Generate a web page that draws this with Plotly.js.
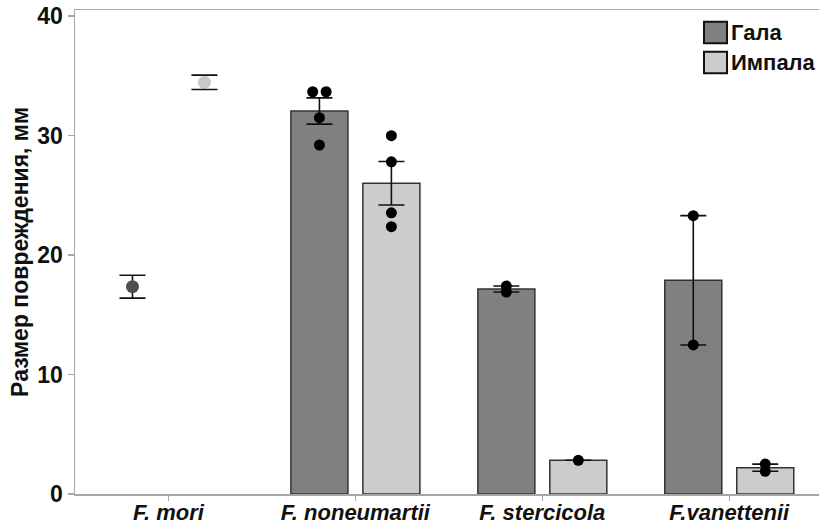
<!DOCTYPE html>
<html>
<head>
<meta charset="utf-8">
<script src="https://cdn.plot.ly/plotly-3.0.1.min.js"></script>
<style>html,body{margin:0;padding:0;background:#fff;}#chart{width:819px;height:527px;}</style>
</head>
<body>
<div id="chart"></div>
<script>
// ---- data ----
const categories = ['F. mori', 'F. noneumartii', 'F. stercicola', 'F.vanettenii'];
const seriesNames = ['Гала', 'Импала'];
const galaMean = [17.35, 32.05, 17.15, 17.88];
const galaSE = [0.96, 1.1, 0.25, 5.41];
const impalaMean = [34.45, 26.0, 2.82, 2.2];
const impalaSE = [0.6, 1.82, 0, 0.3];
const hasBar = [false, true, true, true];
const galaPoints = [[], [33.66, 33.66, 31.49, 29.2], [17.4, 16.9], [23.29, 12.47]];
const impalaPoints = [[], [29.98, 27.8, 23.53, 22.37], [2.82], [2.5, 1.9]];

// ---- styles ----
const FONT = 'Liberation Sans, Arial, sans-serif';
const barFill = ['#808080', '#cccccc'];
const meanMarkerColor = ['#505050', '#c8c8c8'];
const barWidth = 0.305;
const groupOffset = 0.1925;
const dodge = 0.036;

const means = [galaMean, impalaMean];
const ses = [galaSE, impalaSE];
const pts = [galaPoints, impalaPoints];

const traces = [];
// bars
[0, 1].forEach(s => {
  const xs = [], ys = [];
  categories.forEach((c, i) => { if (hasBar[i]) { xs.push(i); ys.push(means[s][i]); } });
  traces.push({
    type: 'bar', x: xs, y: ys, name: seriesNames[s], showlegend: false,
    width: barWidth, offset: s === 0 ? -groupOffset - barWidth / 2 : groupOffset - barWidth / 2,
    marker: { color: barFill[s], line: { color: '#333333', width: 1.5 } },
    hoverinfo: 'skip'
  });
});
// error bars at each group mean
[0, 1].forEach(s => {
  const sign = s === 0 ? -1 : 1;
  traces.push({
    type: 'scatter', mode: 'markers', showlegend: false,
    x: categories.map((c, i) => i + sign * groupOffset),
    y: means[s],
    error_y: { type: 'data', array: ses[s], visible: true, color: '#111111', thickness: 1.6, width: 13 },
    marker: { color: 'rgba(0,0,0,0)', size: 1 },
    hoverinfo: 'skip'
  });
});
// mean markers for groups drawn without bars
[0, 1].forEach(s => {
  const sign = s === 0 ? -1 : 1;
  const xs = [], ys = [];
  categories.forEach((c, i) => { if (!hasBar[i]) { xs.push(i + sign * groupOffset); ys.push(means[s][i]); } });
  traces.push({
    type: 'scatter', mode: 'markers', showlegend: false, x: xs, y: ys,
    marker: { color: meanMarkerColor[s], size: 13, line: { width: 0 } }, hoverinfo: 'skip'
  });
});
// individual points
[0, 1].forEach(s => {
  const sign = s === 0 ? -1 : 1;
  const xs = [], ys = [];
  pts[s].forEach((arr, i) => {
    arr.forEach((v, k) => {
      const same = arr.map((w, j) => j).filter(j => Math.abs(arr[j] - v) < 0.2);
      const rank = same.indexOf(k);
      const off = same.length > 1 ? (rank - (same.length - 1) / 2) * 2 * dodge : 0;
      xs.push(i + sign * groupOffset + off);
      ys.push(v);
    });
  });
  traces.push({
    type: 'scatter', mode: 'markers', showlegend: false, x: xs, y: ys,
    marker: { color: '#000000', size: 11 }, hoverinfo: 'skip'
  });
});

// manual legend (large swatches as in reference)
const shapes = [], annotations = [];
const legendTop = [21.7, 51.7];
seriesNames.forEach((n, s) => {
  shapes.push({
    type: 'rect', xref: 'paper', yref: 'paper',
    x0: (704 - 75) / 744, x1: (727 - 75) / 744,
    y0: (494 - legendTop[s]) / 484, y1: (494 - legendTop[s] - 21.5) / 484,
    fillcolor: barFill[s], line: { color: '#111111', width: 2 }
  });
  annotations.push({
    xref: 'paper', yref: 'paper', x: (729 - 75) / 744, y: (494 - legendTop[s] - 10.5) / 484,
    xanchor: 'left', yanchor: 'middle', text: n, showarrow: false,
    font: { family: FONT, size: 22, color: '#111111', weight: 'bold' }
  });
});

const layout = {
  width: 819, height: 527,
  margin: { l: 75, r: 0, t: 10, b: 33 },
  paper_bgcolor: '#ffffff', plot_bgcolor: '#ffffff',
  barmode: 'overlay',
  showlegend: false,
  font: { family: FONT, color: '#111111' },
  xaxis: {
    type: 'linear', range: [-0.5, 3.48],
    tickvals: categories.map((c, i) => i), ticktext: categories,
    showline: true, mirror: true, linecolor: '#a6a6a6', linewidth: 1.5,
    ticks: 'outside', ticklen: 5, tickcolor: '#a6a6a6', tickwidth: 1.2,
    ticklabelstandoff: -7,
    showgrid: false, zeroline: false,
    tickfont: { family: FONT, size: 22, color: '#111111', weight: 'bold', style: 'italic' }
  },
  yaxis: {
    range: [0, 40.5], tickvals: [0, 10, 20, 30, 40],
    showline: true, linecolor: '#a6a6a6', linewidth: 1.5,
    ticks: 'outside', ticklen: 6, tickcolor: '#a6a6a6', tickwidth: 1.2,
    showgrid: false, zeroline: false,
    tickfont: { family: FONT, size: 23, color: '#111111', weight: 'bold' },
    title: { text: 'Размер повреждения, мм', font: { family: FONT, size: 23, color: '#111111', weight: 'bold' }, standoff: 2 }
  },
  shapes: shapes,
  annotations: annotations
};

Plotly.newPlot('chart', traces, layout, { displayModeBar: false, staticPlot: true });
</script>
</body>
</html>
